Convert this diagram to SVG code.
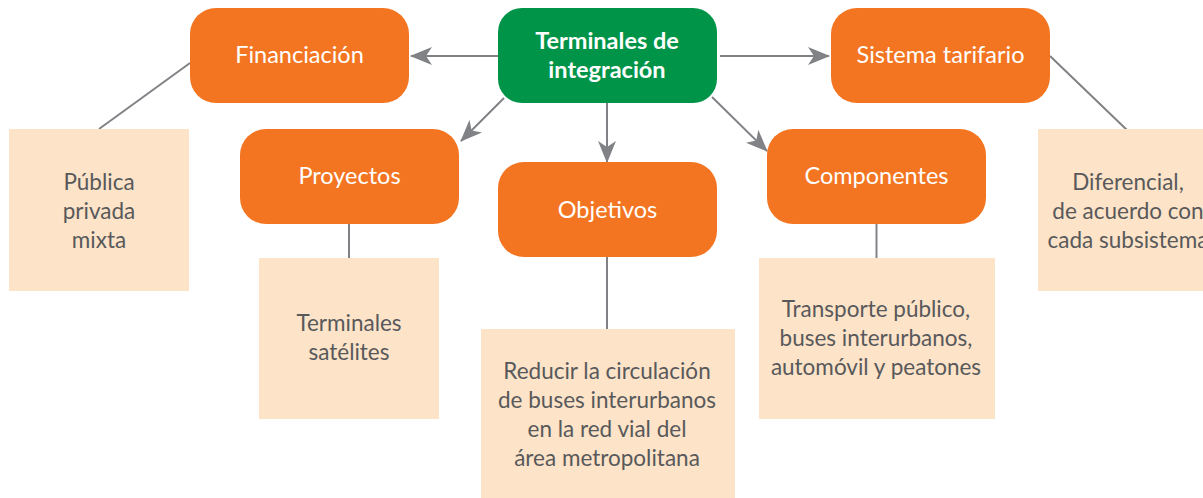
<svg xmlns="http://www.w3.org/2000/svg" width="1203" height="498" viewBox="0 0 1203 498">
<style>
.hdr{fill:#f37521}
.root{fill:#009448}
.box{fill:#fde3c8}
.ht{font-family:"Lato","Open Sans",sans-serif;font-size:23.5px;fill:#ffffff;text-anchor:middle}
.rt{font-family:"Lato","Open Sans",sans-serif;font-size:23.5px;font-weight:bold;fill:#ffffff;text-anchor:middle}
.bt{font-family:"Lato","Open Sans",sans-serif;font-size:22.5px;fill:#58595b;text-anchor:middle}
.ln{stroke:#808285;stroke-width:2;fill:none}
</style>
<defs>
<marker id="ah" viewBox="0 0 22 18" refX="21" refY="9" markerWidth="22" markerHeight="18" markerUnits="userSpaceOnUse" orient="auto">
<path d="M0,0 L22,9 L0,18 L6,9 z" fill="#808285"/>
</marker>
</defs>
<g id="connectors">
<line class="ln" x1="498" y1="56" x2="411" y2="56" marker-end="url(#ah)"/>
<line class="ln" x1="720" y1="56" x2="829" y2="56" marker-end="url(#ah)"/>
<line class="ln" x1="504" y1="98" x2="461" y2="141" marker-end="url(#ah)"/>
<line class="ln" x1="607" y1="103" x2="607" y2="162" marker-end="url(#ah)"/>
<line class="ln" x1="712" y1="97" x2="767" y2="151" marker-end="url(#ah)"/>
<line class="ln" x1="190" y1="63" x2="99" y2="129"/>
<line class="ln" x1="349" y1="224" x2="349" y2="258"/>
<line class="ln" x1="607" y1="257" x2="607" y2="329"/>
<line class="ln" x1="876.5" y1="224" x2="876.5" y2="258"/>
<line class="ln" x1="1050" y1="56" x2="1128" y2="131"/>
</g>
<g id="root">
<rect class="root" x="498" y="8" width="219" height="95" rx="24"/>
<text class="rt" x="607" y="49">Terminales de</text>
<text class="rt" x="607" y="78">integración</text>
</g>
<g id="financiacion">
<rect class="hdr" x="190" y="8" width="219" height="95" rx="26"/>
<text class="ht" x="299.5" y="63">Financiación</text>
</g>
<g id="sistema">
<rect class="hdr" x="831" y="8" width="219" height="95" rx="26"/>
<text class="ht" x="940.5" y="63">Sistema tarifario</text>
</g>
<g id="proyectos">
<rect class="hdr" x="240" y="129" width="219" height="95" rx="26"/>
<text class="ht" x="349.5" y="184">Proyectos</text>
</g>
<g id="objetivos">
<rect class="hdr" x="498" y="162" width="219" height="95" rx="26"/>
<text class="ht" x="607.5" y="218">Objetivos</text>
</g>
<g id="componentes">
<rect class="hdr" x="767" y="129" width="219" height="95" rx="26"/>
<text class="ht" x="876.5" y="184">Componentes</text>
</g>
<g id="publica">
<rect class="box" x="9" y="129" width="180" height="162"/>
<text class="bt" x="99" y="190">Pública</text>
<text class="bt" x="99" y="219">privada</text>
<text class="bt" x="99" y="248">mixta</text>
</g>
<g id="satelites">
<rect class="box" x="259" y="258" width="180" height="161"/>
<text class="bt" x="349" y="331">Terminales</text>
<text class="bt" x="349" y="360">satélites</text>
</g>
<g id="reducir">
<rect class="box" x="481" y="329" width="254" height="169"/>
<text class="bt" x="607" y="379">Reducir la circulación</text>
<text class="bt" x="607" y="408">de buses interurbanos</text>
<text class="bt" x="607" y="437">en la red vial del</text>
<text class="bt" x="607" y="466">área metropolitana</text>
</g>
<g id="transporte">
<rect class="box" x="759" y="258" width="236" height="161"/>
<text class="bt" x="876" y="317">Transporte público,</text>
<text class="bt" x="876" y="346">buses interurbanos,</text>
<text class="bt" x="876" y="375">automóvil y peatones</text>
</g>
<g id="diferencial">
<rect class="box" x="1038" y="129" width="180" height="162"/>
<text class="bt" x="1128" y="190">Diferencial,</text>
<text class="bt" x="1128" y="219">de acuerdo con</text>
<text class="bt" x="1128" y="248">cada subsistema</text>
</g>
</svg>
